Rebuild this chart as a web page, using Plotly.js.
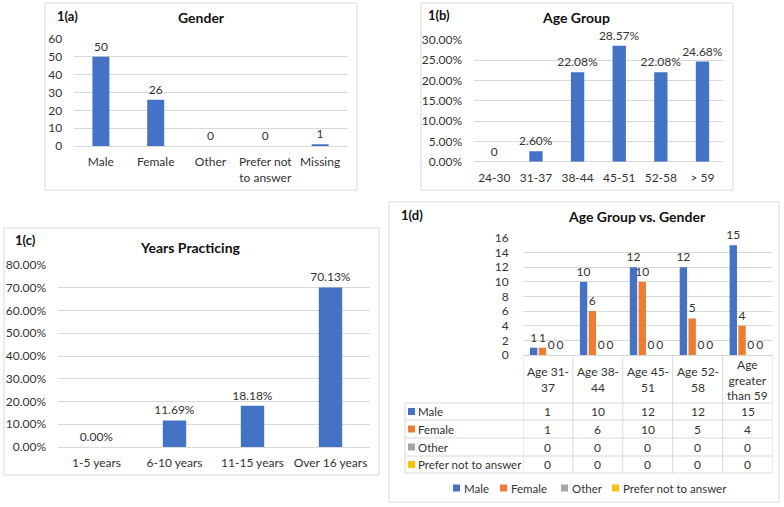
<!DOCTYPE html>
<html>
<head>
<meta charset="utf-8">
<script src="https://cdn.plot.ly/plotly-3.0.1.min.js"></script>
<style>html,body{margin:0;padding:0;background:#fff;}#chart{width:784px;height:507px;}</style>
</head>
<body>
<div id="chart"></div>
<script>
// ---- Data ----
const genderCats = ['Male', 'Female', 'Other', 'Prefer not<br>to answer', 'Missing'];
const genderCounts = [50, 26, 0, 0, 1];

const ageCats = ['24-30', '31-37', '38-44', '45-51', '52-58', '> 59'];
const agePct = [0, 0.0260, 0.2208, 0.2857, 0.2208, 0.2468];

const yearsCats = ['1-5 years', '6-10 years', '11-15 years', 'Over 16 years'];
const yearsPct = [0, 0.1169, 0.1818, 0.7013];

const ageGenderCats = ['Age 31-<br>37', 'Age 38-<br>44', 'Age 45-<br>51', 'Age 52-<br>58', 'Age<br>greater<br>than 59'];
const seriesNames = ['Male', 'Female', 'Other', 'Prefer not to answer'];
const maleCounts = [1, 10, 12, 12, 15];
const femaleCounts = [1, 6, 10, 5, 4];
const otherCounts = [0, 0, 0, 0, 0];
const preferNotCounts = [0, 0, 0, 0, 0];
const seriesValues = [maleCounts, femaleCounts, otherCounts, preferNotCounts];
const seriesColors = ['#4472C4', '#ED7D31', '#A5A5A5', '#FFC000'];

// ---- Helpers ----
const W = 784, H = 507;
const px = x => x / W;
const py = y => 1 - y / H;
const FONT = 'Lato, "Open Sans", sans-serif';
const TXT = '#333333';
const GRID = '#d9d9d9';
const BLUE = '#4472C4';

const pct = v => (v * 100).toFixed(2) + '%';

const traces = [
  {type: 'bar', x: genderCats, y: genderCounts, xaxis: 'x', yaxis: 'y',
   marker: {color: BLUE}, width: 0.31, text: genderCounts.map(String),
   textposition: 'outside', cliponaxis: false, constraintext: 'none',
   textfont: {size: 12, color: TXT, family: FONT}, hoverinfo: 'skip', showlegend: false},
  {type: 'bar', x: ageCats, y: agePct, xaxis: 'x2', yaxis: 'y2',
   marker: {color: BLUE}, width: 0.32, text: agePct.map(v => v === 0 ? '0' : pct(v)),
   textposition: 'outside', cliponaxis: false, constraintext: 'none',
   textfont: {size: 12, color: TXT, family: FONT}, hoverinfo: 'skip', showlegend: false},
  {type: 'bar', x: yearsCats, y: yearsPct, xaxis: 'x3', yaxis: 'y3',
   marker: {color: BLUE}, width: 0.30, text: yearsPct.map(pct),
   textposition: 'outside', cliponaxis: false, constraintext: 'none',
   textfont: {size: 12, color: TXT, family: FONT}, hoverinfo: 'skip', showlegend: false}
];

const dOffsets = [-0.36, -0.184, -0.008, 0.168];
seriesNames.forEach((name, i) => {
  traces.push({type: 'bar', name: name, x: ageGenderCats, y: seriesValues[i],
    xaxis: 'x4', yaxis: 'y4', marker: {color: seriesColors[i]},
    width: 0.148, offset: dOffsets[i], text: seriesValues[i].map(String),
    textposition: 'outside', cliponaxis: false, constraintext: 'none',
    textfont: {size: 12, color: TXT, family: FONT}, hoverinfo: 'skip', showlegend: false});
});

const xBase = {type: 'category', showgrid: false, zeroline: false, showline: false,
  ticks: 'outside', ticklen: 5, tickcolor: 'rgba(0,0,0,0)', tickfont: {size: 12, color: TXT, family: FONT}, fixedrange: true};
const yBase = {showgrid: true, gridcolor: GRID, gridwidth: 1, zeroline: true, zerolinecolor: GRID, zerolinewidth: 1,
  showline: false, ticks: 'outside', ticklen: 8, tickcolor: 'rgba(0,0,0,0)', tickfont: {size: 12, color: TXT, family: FONT}, fixedrange: true};

const layout = {
  width: W, height: H, margin: {l: 0, r: 0, t: 0, b: 0},
  paper_bgcolor: '#fff', plot_bgcolor: 'rgba(0,0,0,0)',
  font: {family: FONT, color: TXT, size: 12},
  showlegend: false, barmode: 'group',
  xaxis: Object.assign({}, xBase, {domain: [px(73.5), px(347.5)], anchor: 'y', range: [-0.5, 4.5]}),
  yaxis: Object.assign({}, yBase, {domain: [py(146), py(39)], anchor: 'x', range: [0, 60], dtick: 10}),
  xaxis2: Object.assign({}, xBase, {domain: [px(473.5), px(723.3)], anchor: 'y2', range: [-0.5, 5.5]}),
  yaxis2: Object.assign({}, yBase, {domain: [py(161.7), py(40)], anchor: 'x2', range: [0, 0.30], dtick: 0.05, tickformat: '.2%'}),
  xaxis3: Object.assign({}, xBase, {domain: [px(57.5), px(369.5)], anchor: 'y3', range: [-0.5, 3.5]}),
  yaxis3: Object.assign({}, yBase, {domain: [py(447), py(265)], anchor: 'x3', range: [0, 0.80], dtick: 0.1, tickformat: '.2%'}),
  xaxis4: Object.assign({}, xBase, {domain: [px(523), px(772.5)], anchor: 'y4', range: [-0.5, 4.5], showticklabels: false}),
  yaxis4: Object.assign({}, yBase, {domain: [py(355), py(238)], anchor: 'x4', range: [0, 16], dtick: 2, ticklen: 11}),
  shapes: [],
  annotations: []
};

// Panel borders
[[45, 3, 357, 190], [421, 3, 733, 190], [4, 228, 379, 475], [389, 202, 779, 502]].forEach(b => {
  layout.shapes.push({type: 'rect', xref: 'paper', yref: 'paper', x0: px(b[0]), y0: py(b[1]), x1: px(b[2]), y1: py(b[3]),
    line: {color: GRID, width: 1}, fillcolor: 'rgba(0,0,0,0)'});
});

// Titles
const titles = [
  ['<b>1(a)</b>', 55, 16, 'left', 13], ['<b>Gender</b>', 201, 18, 'center', 14],
  ['<b>1(b)</b>', 426, 15, 'left', 13], ['<b>Age Group</b>', 576, 18, 'center', 14],
  ['<b>1(c)</b>', 13, 240, 'left', 13], ['<b>Years Practicing</b>', 190, 247, 'center', 14],
  ['<b>1(d)</b>', 399, 215, 'left', 13], ['<b>Age Group vs. Gender</b>', 637, 217, 'center', 14]
];
titles.forEach(t => layout.annotations.push({text: t[0], xref: 'paper', yref: 'paper', x: px(t[1]), y: py(t[2]),
  xanchor: t[3], yanchor: 'middle', showarrow: false, font: {size: t[4], color: '#111111', family: FONT}}));

// Data table under panel (d)
const tblLeft = 405, tblRight = 772.5, hdrTop = 355, hdrBot = 403;
const rowLines = [403, 420, 438, 456, 473];
rowLines.forEach(y => layout.shapes.push({type: 'line', xref: 'paper', yref: 'paper', x0: px(tblLeft), x1: px(tblRight),
  y0: py(y), y1: py(y), line: {color: GRID, width: 1}}));
for (let k = 0; k <= ageGenderCats.length; k++) {
  layout.shapes.push({type: 'line', xref: 'x4', yref: 'paper', x0: k - 0.5, x1: k - 0.5,
    y0: py(hdrTop), y1: py(473), line: {color: GRID, width: 1}});
}
layout.shapes.push({type: 'line', xref: 'paper', yref: 'paper', x0: px(tblLeft), x1: px(tblLeft),
  y0: py(hdrBot), y1: py(473), line: {color: GRID, width: 1}});

ageGenderCats.forEach((c, i) => layout.annotations.push({text: c, xref: 'x4', yref: 'paper', x: i, y: py(379.5),
  xanchor: 'center', yanchor: 'middle', showarrow: false, font: {size: 12, color: TXT, family: FONT}}));

function keySquare(xLeft, yCenter, color) {
  layout.shapes.push({type: 'rect', xref: 'paper', yref: 'paper', x0: px(xLeft), x1: px(xLeft + 7),
    y0: py(yCenter - 3.5), y1: py(yCenter + 3.5), fillcolor: color, line: {width: 0}});
}

const rowCenters = [411.5, 429, 447, 464.5];
seriesNames.forEach((name, r) => {
  keySquare(408, rowCenters[r], seriesColors[r]);
  layout.annotations.push({text: name,
    xref: 'paper', yref: 'paper', x: px(416), y: py(rowCenters[r]), xanchor: 'left', yanchor: 'middle',
    showarrow: false, font: {size: 11.5, color: TXT, family: FONT}});
  seriesValues[r].forEach((v, i) => layout.annotations.push({text: String(v), xref: 'x4', yref: 'paper', x: i,
    y: py(rowCenters[r]), xanchor: 'center', yanchor: 'middle', showarrow: false, font: {size: 12, color: TXT, family: FONT}}));
});

// Legend (bottom of panel d)
const legendX = [453, 500, 561, 612];
seriesNames.forEach((name, r) => {
  keySquare(legendX[r], 488, seriesColors[r]);
  layout.annotations.push({text: name,
    xref: 'paper', yref: 'paper', x: px(legendX[r] + 9), y: py(488), xanchor: 'left', yanchor: 'middle',
    showarrow: false, font: {size: 11.5, color: TXT, family: FONT}});
});

Plotly.newPlot('chart', traces, layout, {staticPlot: true, displayModeBar: false});
</script>
</body>
</html>
